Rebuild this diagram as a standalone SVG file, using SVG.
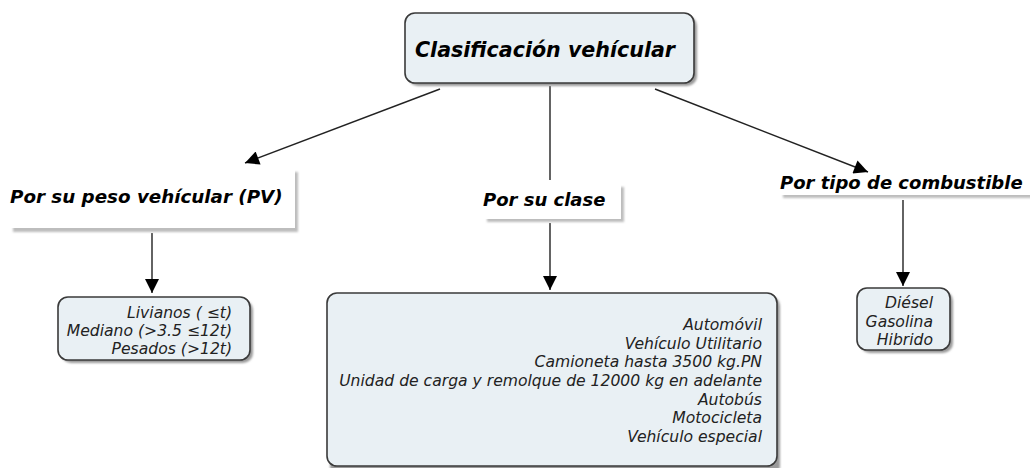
<svg xmlns="http://www.w3.org/2000/svg" width="1030" height="468" viewBox="0 0 1030 468">
<defs>
<style>
.box{fill:#e9f0f4;stroke:#3a3a3a;stroke-width:1.6}
.shd{fill:#9a9a9a}
.lshd{fill:#bdbdbd}
.hdr{font-family:"DejaVu Sans",Verdana,sans-serif;font-weight:bold;font-style:italic;fill:#000}
.itm{font-family:"DejaVu Sans",Verdana,sans-serif;font-style:italic;font-size:15.6px;fill:#222;text-anchor:end}
.ln{stroke:#222;stroke-width:1.4;fill:none}
</style>
<marker id="ah" viewBox="0 0 10 10" refX="10" refY="5" markerWidth="15" markerHeight="14" markerUnits="userSpaceOnUse" orient="auto">
<path d="M0,0 L10,5 L0,10 z" fill="#000"/>
</marker>
<filter id="bl" x="-5%" y="-5%" width="110%" height="110%"><feGaussianBlur stdDeviation="1"/></filter>
</defs>
<rect width="1030" height="468" fill="#fff"/>
<g id="connectors">
<line class="ln" x1="440" y1="89" x2="245" y2="163" marker-end="url(#ah)"/>
<line class="ln" x1="550" y1="86" x2="550" y2="180"/>
<line class="ln" x1="655" y1="89" x2="868" y2="172" marker-end="url(#ah)"/>
<line class="ln" x1="152" y1="233" x2="152" y2="293" marker-end="url(#ah)"/>
<line class="ln" x1="550" y1="223" x2="550" y2="290" marker-end="url(#ah)"/>
<line class="ln" x1="903" y1="200" x2="903" y2="286" marker-end="url(#ah)"/>
</g>
<g id="root">
<rect x="408" y="16" width="289" height="70" rx="10" class="shd" filter="url(#bl)"/>
<rect x="405" y="13" width="289" height="70" rx="10" class="box"/>
<text x="545" y="57" text-anchor="middle" class="hdr" font-size="20.6">Clasificación vehícular</text>
</g>
<g id="peso">
<rect x="13" y="172" width="285" height="60" class="lshd" filter="url(#bl)"/>
<rect x="8" y="168" width="287" height="60" fill="#fff"/>
<text x="10" y="203" class="hdr" font-size="18.3">Por su peso vehícular (PV)</text>
</g>
<g id="clase">
<rect x="487" y="187" width="137" height="35" class="lshd" filter="url(#bl)"/>
<rect x="482" y="183" width="139" height="36" fill="#fff"/>
<text x="483" y="206" class="hdr" font-size="18">Por su clase</text>
</g>
<g id="combustible">
<rect x="783" y="177" width="250" height="21" class="lshd" filter="url(#bl)"/>
<rect x="776" y="174" width="260" height="21" fill="#fff"/>
<text x="780" y="189" class="hdr" font-size="18">Por tipo de combustible</text>
</g>
<g id="peso-items">
<rect x="61" y="300" width="192" height="63" rx="10" class="shd" filter="url(#bl)"/>
<rect x="58" y="297" width="192" height="63" rx="10" class="box"/>
<text class="itm" x="232" y="318">Livianos ( ≤t)</text>
<text class="itm" x="232" y="336">Mediano (&gt;3.5 ≤12t)</text>
<text class="itm" x="232" y="354">Pesados (&gt;12t)</text>
</g>
<g id="clase-items">
<rect x="330" y="296" width="450" height="180" rx="10" class="shd" filter="url(#bl)"/>
<rect x="327" y="293" width="450" height="173" rx="10" class="box"/>
<text class="itm" x="762" y="330">Automóvil</text>
<text class="itm" x="762" y="349">Vehículo Utilitario</text>
<text class="itm" x="762" y="367">Camioneta hasta 3500 kg.PN</text>
<text class="itm" x="762" y="386">Unidad de carga y remolque de 12000 kg en adelante</text>
<text class="itm" x="762" y="405">Autobús</text>
<text class="itm" x="762" y="423">Motocicleta</text>
<text class="itm" x="762" y="442">Vehículo especial</text>
</g>
<g id="combustible-items">
<rect x="860" y="291" width="93" height="62" rx="10" class="shd" filter="url(#bl)"/>
<rect x="857" y="288" width="93" height="62" rx="10" class="box"/>
<text class="itm" x="933" y="308">Diésel</text>
<text class="itm" x="933" y="327">Gasolina</text>
<text class="itm" x="933" y="345">Hibrido</text>
</g>
</svg>
